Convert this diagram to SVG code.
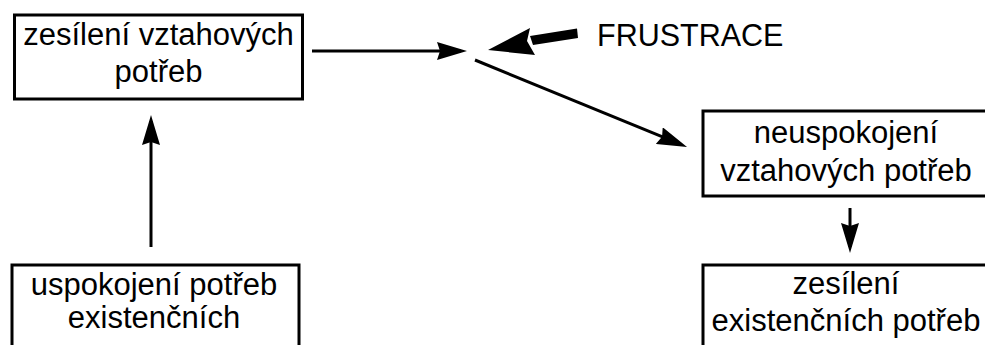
<svg xmlns="http://www.w3.org/2000/svg" width="985" height="345" viewBox="0 0 985 345">
<style>
.box{fill:#fff;stroke:#000;stroke-width:3}
.t{font-family:"Liberation Sans",Arial,sans-serif;font-size:31px;fill:#000;text-anchor:middle}
.c{stroke:#000;stroke-width:3;fill:none;marker-end:url(#ah)}
</style>
<defs>
<marker id="ah" markerUnits="userSpaceOnUse" viewBox="0 0 30 18" refX="24" refY="9" markerWidth="30" markerHeight="18" orient="auto">
<path d="M0,0 L30,9 L0,18 L3,9 Z" fill="#000"/>
</marker>
</defs>
<rect width="985" height="345" fill="#fff"/>
<g id="n1">
<rect class="box" x="14.5" y="15" width="288" height="84"/>
<text class="t" x="158.5" y="44.5">zesílení vztahových</text>
<text class="t" x="158.5" y="81.7">potřeb</text>
</g>
<g id="n2">
<rect class="box" x="703" y="111" width="288" height="85"/>
<text class="t" x="846" y="143.3">neuspokojení</text>
<text class="t" x="846" y="180.7">vztahových potřeb</text>
</g>
<g id="n3">
<rect class="box" x="703" y="265" width="288" height="100"/>
<text class="t" x="846" y="294">zesílení</text>
<text class="t" x="846" y="330.7">existenčních potřeb</text>
</g>
<g id="n4">
<rect class="box" x="12" y="265" width="287" height="100"/>
<text class="t" x="154" y="295">uspokojení potřeb</text>
<text class="t" x="154" y="328">existenčních</text>
</g>
<g id="frustrace">
<text x="597" y="46" style="font-family:'Liberation Sans',Arial,sans-serif;font-size:30.5px;fill:#000">FRUSTRACE</text>
</g>
<g id="connectors">
<line class="c" x1="312" y1="51" x2="461" y2="51"/>
<line class="c" x1="151" y1="247" x2="151" y2="121"/>
<line class="c" x1="850" y1="208" x2="850" y2="247"/>
<line class="c" x1="475" y1="60" x2="681.5" y2="144.7"/>
<path d="M577,28.5 L578,38 L533,45 L530,36 Z" fill="#000"/>
<path d="M488,50 L530,28 L527,41 L535,55 Z" fill="#000"/>
</g>
</svg>
